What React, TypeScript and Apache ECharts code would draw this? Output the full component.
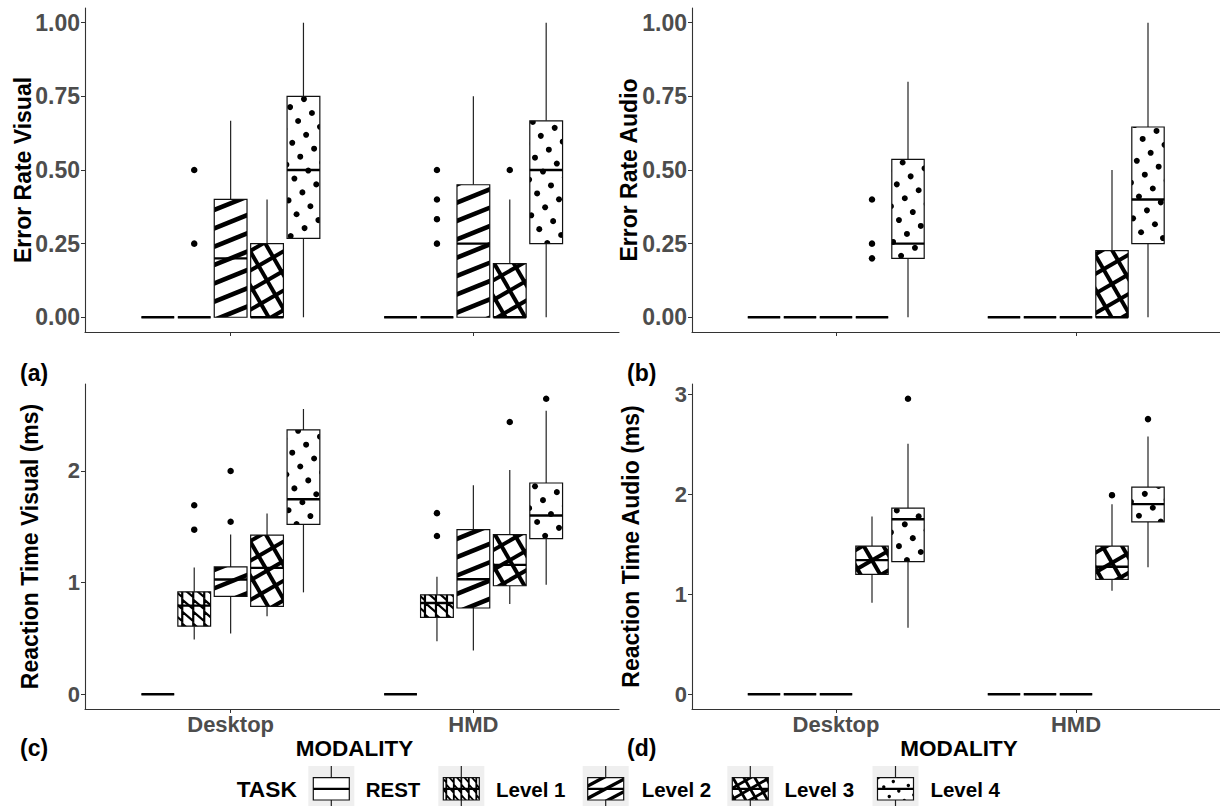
import React, { useEffect, useRef } from "react";
import * as echarts from "echarts";

// ---------- data ----------
const MODALITIES = ["Desktop", "HMD"];
const TASKS = ["REST", "Level 1", "Level 2", "Level 3", "Level 4"];

// each row: [lower whisker, Q1, median, Q3, upper whisker] for REST, Level 1..4
const errorVisualDesktop = [
  [0, 0, 0, 0, 0],
  [0, 0, 0, 0, 0],
  [0, 0, 0.2, 0.4, 0.667],
  [0, 0, 0, 0.25, 0.4],
  [0, 0.268, 0.5, 0.75, 1],
];
const errorVisualHMD = [
  [0, 0, 0, 0, 0],
  [0, 0, 0, 0, 0],
  [0, 0, 0.25, 0.45, 0.75],
  [0, 0, 0, 0.182, 0.4],
  [0, 0.25, 0.5, 0.667, 1],
];
// [modality index, task index, value]
const errorVisualOutliers = [
  [0, 1, 0.25], [0, 1, 0.5],
  [1, 1, 0.25], [1, 1, 0.333], [1, 1, 0.4], [1, 1, 0.5],
  [1, 3, 0.5],
];

const errorAudioDesktop = [
  [0, 0, 0, 0, 0],
  [0, 0, 0, 0, 0],
  [0, 0, 0, 0, 0],
  [0, 0, 0, 0, 0],
  [0, 0.2, 0.25, 0.536, 0.8],
];
const errorAudioHMD = [
  [0, 0, 0, 0, 0],
  [0, 0, 0, 0, 0],
  [0, 0, 0, 0, 0],
  [0, 0, 0, 0.226, 0.5],
  [0, 0.25, 0.4, 0.646, 1],
];
const errorAudioOutliers = [[0, 3, 0.2], [0, 3, 0.25], [0, 3, 0.4]];

const rtVisualDesktop = [
  [0, 0, 0, 0, 0],
  [0.49, 0.609, 0.793, 0.917, 1.134],
  [0.543, 0.876, 1.027, 1.14, 1.431],
  [0.698, 0.787, 1.131, 1.425, 1.618],
  [0.912, 1.52, 1.745, 2.366, 2.553],
];
const rtVisualHMD = [
  [0, 0, 0, 0, 0],
  [0.475, 0.689, 0.817, 0.89, 1.051],
  [0.392, 0.772, 1.03, 1.473, 1.87],
  [0.808, 0.971, 1.158, 1.428, 2.007],
  [0.98, 1.393, 1.6, 1.891, 2.538],
];
const rtVisualOutliers = [
  [0, 1, 1.473], [0, 1, 1.692], [0, 2, 1.544], [0, 2, 1.998],
  [1, 1, 1.416], [1, 1, 1.621], [1, 3, 2.437], [1, 4, 2.645],
];

const rtAudioDesktop = [
  [0, 0, 0, 0, 0],
  [0, 0, 0, 0, 0],
  [0, 0, 0, 0, 0],
  [0.913, 1.197, 1.34, 1.48, 1.775],
  [0.664, 1.324, 1.749, 1.859, 2.502],
];
const rtAudioHMD = [
  [0, 0, 0, 0, 0],
  [0, 0, 0, 0, 0],
  [0, 0, 0, 0, 0],
  [1.034, 1.147, 1.274, 1.48, 1.899],
  [1.268, 1.722, 1.899, 2.069, 2.576],
];
const rtAudioOutliers = [[0, 4, 2.953], [1, 3, 1.989], [1, 4, 2.749]];

const ERROR_TICKS = [0, 0.25, 0.5, 0.75, 1];
const RT_VISUAL_TICKS = [0, 1, 2];
const RT_AUDIO_TICKS = [0, 1, 2, 3];

// ---------- layout / style ----------
const FONT = '"Liberation Sans", Arial, sans-serif';
const DODGE = 0.15;
const BOX_HALF = 0.0675;
const AXIS_COLOR = "#333333";
const WHISKER_COLOR = "#222222";
const TICK_TEXT = "#4d4d4d";

const panels = [
  { desktop: errorVisualDesktop, hmd: errorVisualHMD, outliers: errorVisualOutliers, ticks: ERROR_TICKS,
    min: -0.05, max: 1.05, decimals: 2, labelSize: 23, showX: false,
    grid: { left: 85, top: 8, right: 601, bottom: 474 } },
  { desktop: errorAudioDesktop, hmd: errorAudioHMD, outliers: errorAudioOutliers, ticks: ERROR_TICKS,
    min: -0.05, max: 1.05, decimals: 2, labelSize: 23, showX: false,
    grid: { left: 692, top: 8, right: -6, bottom: 474 } },
  { desktop: rtVisualDesktop, hmd: rtVisualHMD, outliers: rtVisualOutliers, ticks: RT_VISUAL_TICKS,
    min: -0.132, max: 2.777, decimals: 0, labelSize: 22, showX: true,
    grid: { left: 85, top: 384, right: 601, bottom: 97 } },
  { desktop: rtAudioDesktop, hmd: rtAudioHMD, outliers: rtAudioOutliers, ticks: RT_AUDIO_TICKS,
    min: -0.148, max: 3.1, decimals: 0, labelSize: 22, showX: true,
    grid: { left: 692, top: 384, right: -6, bottom: 97 } },
];

// ---------- pattern helpers ----------
type R = { x: number; y: number; width: number; height: number };

function stripes(rect: R, angleDeg: number, spacing: number, width: number) {
  const a = (angleDeg * Math.PI) / 180;
  const dx = Math.cos(a), dy = -Math.sin(a);
  const nx = Math.sin(a), ny = Math.cos(a);
  const cx = rect.x + rect.width / 2, cy = rect.y + rect.height / 2;
  const L = Math.hypot(rect.width, rect.height) / 2 + spacing;
  const n = Math.ceil(L / spacing) + 1;
  const out: any[] = [];
  for (let k = -n; k <= n; k++) {
    const px = cx + k * spacing * nx, py = cy + k * spacing * ny;
    out.push({
      type: "line",
      shape: { x1: px - L * dx, y1: py - L * dy, x2: px + L * dx, y2: py + L * dy },
      style: { stroke: "#000", lineWidth: width, lineCap: "butt" },
    });
  }
  return out;
}

function dots(rect: R, angleDeg: number, spacing: number, r: number) {
  const a = (angleDeg * Math.PI) / 180;
  const ax = Math.cos(a), ay = -Math.sin(a);
  const bx = Math.sin(a), by = Math.cos(a);
  const cx = rect.x + rect.width / 2, cy = rect.y + rect.height / 2;
  const L = Math.hypot(rect.width, rect.height) / 2 + spacing;
  const n = Math.ceil(L / spacing) + 1;
  const out: any[] = [];
  for (let i = -n; i <= n; i++) {
    for (let j = -n; j <= n; j++) {
      const px = cx + (i * ax + j * bx) * spacing + spacing * 0.3;
      const py = cy + (i * ay + j * by) * spacing + spacing * 0.2;
      if (Math.abs(px - cx) <= rect.width / 2 + r && Math.abs(py - cy) <= rect.height / 2 + r) {
        out.push({ type: "circle", shape: { cx: px, cy: py, r }, style: { fill: "#000" } });
      }
    }
  }
  return out;
}

function zigzag(rect: R, period: number, rowH: number, width: number) {
  const out: any[] = [];
  for (let yt = rect.y - rowH * 0.35; yt < rect.y + rect.height; yt += rowH) {
    const yb = yt + rowH * 0.8;
    const pts: number[][] = [];
    let x = rect.x - period * 0.6;
    pts.push([x, yt]);
    while (x < rect.x + rect.width + period) {
      x += period;
      pts.push([x, yb]);
      pts.push([x, yt]);
    }
    out.push({
      type: "polyline",
      shape: { points: pts },
      style: { stroke: "#000", lineWidth: width, fill: "none", lineJoin: "miter" },
    });
  }
  return out;
}

function patternFor(task: number, rect: R, legend: boolean) {
  if (task === 1) return legend ? zigzag(rect, 7.5, 10.5, 1.8) : zigzag(rect, 11, 12, 2.2);
  if (task === 2) return legend ? stripes(rect, 28, 11, 3.4) : stripes(rect, 22, 17, 4.6);
  if (task === 3)
    return legend
      ? [...stripes(rect, 30, 9.5, 2.8), ...stripes(rect, -60, 9.5, 2.8)]
      : [...stripes(rect, 30, 17, 4), ...stripes(rect, -60, 17, 4)];
  if (task === 4) return legend ? dots(rect, 30, 11, 1.7) : dots(rect, 30, 16, 3);
  return [];
}

function boxChildren(task: number, rect: R, medianY: number, legend: boolean) {
  const children: any[] = [];
  children.push({ type: "rect", shape: rect, style: { fill: "#fff" } });
  if (rect.height > 0.5) {
    const pat = patternFor(task, rect, legend);
    if (pat.length) {
      children.push({
        type: "group",
        children: pat,
        clipPath: { type: "rect", shape: { ...rect } },
      });
    }
  }
  children.push({
    type: "rect",
    shape: rect,
    style: { fill: "none", stroke: "#111", lineWidth: 1.2 },
  });
  children.push({
    type: "line",
    shape: { x1: rect.x, y1: medianY, x2: rect.x + rect.width, y2: medianY },
    style: { stroke: "#000", lineWidth: 2.4 },
  });
  return children;
}

function renderBox(params: any, api: any) {
  const x = api.value(0) as number;
  const lo = api.value(1) as number;
  const q1 = api.value(2) as number;
  const med = api.value(3) as number;
  const q3 = api.value(4) as number;
  const hi = api.value(5) as number;
  const task = api.value(6) as number;
  const tl = api.coord([x - BOX_HALF, q3]);
  const br = api.coord([x + BOX_HALF, q1]);
  const pm = api.coord([x, med]);
  const pLo = api.coord([x, lo]);
  const pHi = api.coord([x, hi]);
  const rect = { x: tl[0], y: tl[1], width: br[0] - tl[0], height: br[1] - tl[1] };
  const children: any[] = [];
  const ws = { stroke: WHISKER_COLOR, lineWidth: 1.2 };
  if (hi > q3) children.push({ type: "line", shape: { x1: pm[0], y1: pHi[1], x2: pm[0], y2: tl[1] }, style: ws });
  if (lo < q1) children.push({ type: "line", shape: { x1: pm[0], y1: br[1], x2: pm[0], y2: pLo[1] }, style: ws });
  children.push(...boxChildren(task, rect, pm[1], false));
  return { type: "group", children };
}

const LEGEND_KEY_X = [308.3, 438.3, 582.7, 727.3, 872.5];
const LEGEND_LABEL_X = [365.7, 496, 641.7, 784.6, 930.4];
const LEGEND_TOP = 766;

function renderLegendKey(params: any) {
  const i = params.dataIndex;
  const kx = LEGEND_KEY_X[i];
  const rect = { x: kx + 5, y: LEGEND_TOP + 11.7, width: 36, height: 22.3 };
  const children: any[] = [
    { type: "rect", shape: { x: kx, y: LEGEND_TOP, width: 46, height: 42 }, style: { fill: "#efefef" } },
    { type: "line", shape: { x1: kx + 23, y1: LEGEND_TOP, x2: kx + 23, y2: LEGEND_TOP + 42 }, style: { stroke: WHISKER_COLOR, lineWidth: 1.2 } },
    ...boxChildren(i, rect, rect.y + rect.height / 2, true),
  ];
  return { type: "group", children };
}

function buildRows(p: any) {
  const rows: number[][] = [];
  [p.desktop, p.hmd].forEach((stats: number[][], m: number) => {
    stats.forEach((s, t) => {
      rows.push([m + 1 + (t - 2) * DODGE, ...s, t]);
    });
  });
  return rows;
}

function buildOption() {
  const series: any[] = [];
  panels.forEach((p, i) => {
    series.push({
      type: "custom",
      xAxisIndex: i,
      yAxisIndex: i,
      data: buildRows(p),
      encode: { x: 0, y: [1, 2, 3, 4, 5] },
      renderItem: renderBox,
      clip: false,
      silent: true,
    });
  });
  panels.forEach((p, i) => {
    series.push({
      type: "scatter",
      xAxisIndex: i,
      yAxisIndex: i,
      data: p.outliers.map(([m, t, v]) => [m + 1 + (t - 2) * DODGE, v]),
      symbol: "circle",
      symbolSize: 6.5,
      itemStyle: { color: "#000", opacity: 1 },
      silent: true,
      z: 5,
    });
  });
  series.push({
    type: "custom",
    coordinateSystem: "none",
    data: TASKS.map((_, i) => [i]),
    renderItem: renderLegendKey,
    silent: true,
  });

  const text = (t: string, x: number, y: number, size: number, align = "left", rot = 0, color = "#000") => ({
    type: "text",
    x,
    y,
    rotation: rot,
    silent: true,
    style: {
      text: t,
      fill: color,
      fontSize: size,
      fontWeight: "bold",
      fontFamily: FONT,
      align,
      verticalAlign: "middle",
    },
  });

  const graphic = [
    text("Error Rate Visual", 23.3, 170, 23, "center", Math.PI / 2),
    text("Error Rate Audio", 628.5, 170, 23, "center", Math.PI / 2),
    text("Reaction Time Visual (ms)", 30, 546.5, 23, "center", Math.PI / 2),
    text("Reaction Time Audio (ms)", 631, 546.5, 23, "center", Math.PI / 2),
    text("(a)", 20, 373, 23),
    text("(b)", 627, 373, 23),
    text("(c)", 20, 748, 23),
    text("(d)", 627, 748, 23),
    text("MODALITY", 354.5, 748, 22.5, "center"),
    text("MODALITY", 959, 748, 22.5, "center"),
    text("TASK", 236.7, 789, 22.7),
    ...TASKS.map((t, i) => text(t, LEGEND_LABEL_X[i], 789, 20.5)),
  ];

  return {
    animation: false,
    backgroundColor: "#fff",
    grid: panels.map((p) => ({ ...p.grid, containLabel: false })),
    xAxis: panels.map((p, i) => ({
      type: "value",
      gridIndex: i,
      min: 0.4,
      max: 2.6,
      splitLine: { show: false },
      axisLine: { show: true, onZero: false, lineStyle: { color: AXIS_COLOR, width: 1.1 } },
      axisTick: { show: true, length: 4, customValues: [1, 2], lineStyle: { color: AXIS_COLOR, width: 1 } },
      axisLabel: {
        show: p.showX,
        customValues: [1, 2],
        formatter: (v: number) => MODALITIES[Math.round(v) - 1] || "",
        color: TICK_TEXT,
        fontWeight: "bold",
        fontSize: 22,
        fontFamily: FONT,
        margin: 4,
      },
    })),
    yAxis: panels.map((p, i) => ({
      type: "value",
      gridIndex: i,
      min: p.min,
      max: p.max,
      splitLine: { show: false },
      axisLine: { show: true, onZero: false, lineStyle: { color: AXIS_COLOR, width: 1.1 } },
      axisTick: { show: true, length: 4, customValues: p.ticks, lineStyle: { color: AXIS_COLOR, width: 1 } },
      axisLabel: {
        customValues: p.ticks,
        formatter: (v: number) => Number(v).toFixed(p.decimals),
        color: TICK_TEXT,
        fontWeight: "bold",
        fontSize: p.labelSize,
        fontFamily: FONT,
        margin: 5,
      },
    })),
    series,
    graphic,
  };
}

export default function App() {
  const ref = useRef<HTMLDivElement>(null);
  useEffect(() => {
    if (!ref.current) return;
    const chart = echarts.init(ref.current, undefined, { renderer: "svg" });
    chart.setOption(buildOption() as any);
    return () => chart.dispose();
  }, []);
  return (
    <div
      ref={ref}
      style={{ position: "absolute", left: 0, top: 0, width: 1220, height: 806, background: "#fff" }}
    />
  );
}
